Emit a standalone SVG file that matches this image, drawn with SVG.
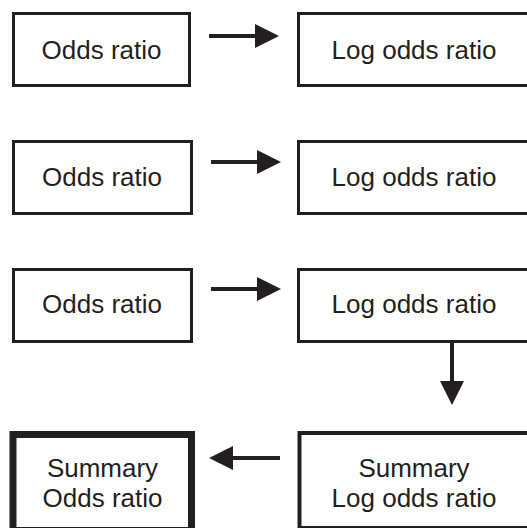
<svg xmlns="http://www.w3.org/2000/svg" width="527" height="528" viewBox="0 0 527 528">
<style>
.box{fill:#fff;stroke:#231f20;stroke-width:3}
.thick{fill:#fff;stroke:#231f20;stroke-width:7}
.lbl{font-family:"Liberation Sans",Arial,sans-serif;font-size:26px;fill:#231f20;text-anchor:middle}
.ln{stroke:#231f20;stroke-width:4;fill:none}
.hd{fill:#231f20}
</style>
<rect width="527" height="528" fill="#fff"/>
<g id="n1"><rect class="box" x="13.5" y="13.5" width="176" height="72"/><text class="lbl" x="101.5" y="58.5">Odds ratio</text></g>
<g id="n2"><rect class="box" x="298.5" y="13.5" width="234" height="72"/><text class="lbl" x="414" y="58.5">Log odds ratio</text></g>
<g id="n3"><rect class="box" x="13.5" y="141.5" width="178" height="72"/><text class="lbl" x="102" y="186">Odds ratio</text></g>
<g id="n4"><rect class="box" x="298.5" y="141.5" width="234" height="72"/><text class="lbl" x="414" y="186">Log odds ratio</text></g>
<g id="n5"><rect class="box" x="13.5" y="269.5" width="178" height="72"/><text class="lbl" x="102" y="313">Odds ratio</text></g>
<g id="n6"><rect class="box" x="298.5" y="269.5" width="234" height="72"/><text class="lbl" x="414" y="313">Log odds ratio</text></g>
<g id="n7"><rect class="box" x="299.5" y="433" width="234" height="95" style="stroke-width:4"/><text class="lbl" x="414" y="477">Summary</text><text class="lbl" x="414" y="507">Log odds ratio</text></g>
<g id="n8"><rect class="thick" x="13" y="434.5" width="178.5" height="96"/><text class="lbl" x="102.5" y="477">Summary</text><text class="lbl" x="102.5" y="507">Odds ratio</text></g>
<g id="connectors">
<line class="ln" x1="209" y1="36" x2="258" y2="36"/><polygon class="hd" points="255,24 279,36 255,48"/>
<line class="ln" x1="211" y1="162" x2="259" y2="162"/><polygon class="hd" points="257,150 281,162 257,174"/>
<line class="ln" x1="211" y1="289" x2="259" y2="289"/><polygon class="hd" points="257,277 281,289 257,301"/>
<line class="ln" x1="452" y1="342" x2="452" y2="383"/><polygon class="hd" points="440,381 464,381 452,405"/>
<line class="ln" x1="280" y1="458" x2="231" y2="458"/><polygon class="hd" points="233,446 233,470 209,458"/>
</g>
</svg>
